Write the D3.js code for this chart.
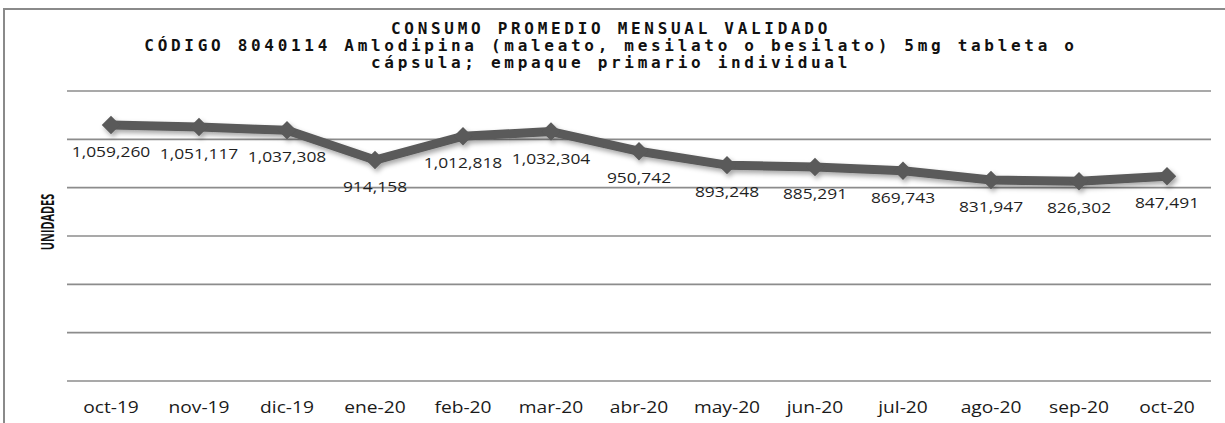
<!DOCTYPE html>
<html>
<head>
<meta charset="utf-8">
<script src="https://cdn.jsdelivr.net/npm/d3@7"></script>
<style>
  body { margin: 0; background: #fff; }
  svg { display: block; }
</style>
</head>
<body>
<div id="chart"></div>
<script>
const months = ["oct-19", "nov-19", "dic-19", "ene-20", "feb-20", "mar-20", "abr-20",
  "may-20", "jun-20", "jul-20", "ago-20", "sep-20", "oct-20"];
const consumo = [1059260, 1051117, 1037308, 914158, 1012818, 1032304, 950742,
  893248, 885291, 869743, 831947, 826302, 847491];
const yTicks = [0, 200000, 400000, 600000, 800000, 1000000, 1200000];
const titleLines = [
  "CONSUMO PROMEDIO MENSUAL VALIDADO",
  "CÓDIGO 8040114 Amlodipina (maleato, mesilato o besilato) 5mg tableta o",
  "cápsula; empaque primario individual"
];

const W = 1225, H = 423;
const plot = { left: 67, right: 1211, top: 91, bottom: 381 };

const svg = d3.select("#chart").append("svg")
  .attr("width", W)
  .attr("height", H);

const defs = svg.append("defs");
const shadow = defs.append("filter").attr("id", "shadow")
  .attr("x", "-10%").attr("y", "-50%").attr("width", "120%").attr("height", "200%");
shadow.append("feDropShadow")
  .attr("dx", 2).attr("dy", 3).attr("stdDeviation", 2.5)
  .attr("flood-color", "#000").attr("flood-opacity", 0.35);

// outer frame
svg.append("rect")
  .attr("x", 4).attr("y", 9)
  .attr("width", 1240).attr("height", 440)
  .attr("fill", "none")
  .attr("stroke", "#8a8a8a")
  .attr("stroke-width", 2);

const x = d3.scaleBand()
  .domain(months)
  .range([plot.left, plot.right]);

const y = d3.scaleLinear()
  .domain([0, 1200000])
  .range([plot.bottom, plot.top]);

// gridlines
svg.append("g")
  .selectAll("line")
  .data(yTicks)
  .enter()
  .append("line")
  .attr("x1", plot.left)
  .attr("x2", plot.right)
  .attr("y1", (d) => y(d))
  .attr("y2", (d) => y(d))
  .attr("stroke", "#8c8c8c")
  .attr("stroke-width", 1.6);

// x labels
const cx = (d) => x(d) + x.bandwidth() / 2;
svg.append("g")
  .selectAll("text")
  .data(months)
  .enter()
  .append("text")
  .attr("transform", (d) => `translate(${cx(d)},${413}) scale(1.2,1)`)
  .attr("text-anchor", "middle")
  .attr("font-family", "Open Sans, sans-serif")
  .attr("font-size", 16)
  .attr("fill", "#1a1a1a")
  .text((d) => d);

// y title
svg.append("text")
  .attr("transform", "translate(54,222) rotate(-90) scale(0.64,1)")
  .attr("text-anchor", "middle")
  .attr("font-family", "Open Sans, sans-serif")
  .attr("font-weight", "bold")
  .attr("font-size", 17)
  .attr("fill", "#111")
  .text("UNIDADES");

// title
svg.append("g")
  .selectAll("text")
  .data(titleLines)
  .enter()
  .append("text")
  .attr("x", 611)
  .attr("y", (d, i) => 34 + i * 17)
  .attr("text-anchor", "middle")
  .attr("font-family", "DejaVu Sans Mono, monospace")
  .attr("font-weight", "bold")
  .attr("font-size", 16)
  .attr("letter-spacing", 3.7)
  .attr("fill", "#111")
  .text((d) => d);

// line
const line = d3.line()
  .x((d, i) => cx(months[i]))
  .y((d) => y(d));

const series = svg.append("g").attr("filter", "url(#shadow)");

series.append("path")
  .datum(consumo)
  .attr("d", line)
  .attr("fill", "none")
  .attr("stroke", "#5a5a5a")
  .attr("stroke-width", 9)
  .attr("stroke-linejoin", "round");

const diamond = d3.symbol().type(d3.symbolSquare).size(170);
series.selectAll(".marker")
  .data(consumo)
  .enter()
  .append("path")
  .attr("class", "marker")
  .attr("d", diamond)
  .attr("transform", (d, i) => `translate(${cx(months[i])},${y(d)}) rotate(45)`)
  .attr("fill", "#5a5a5a");

// value labels
const fmt = d3.format(",");
svg.append("g")
  .selectAll("text")
  .data(consumo)
  .enter()
  .append("text")
  .attr("transform", (d, i) => `translate(${cx(months[i])},${y(d) + 32}) scale(1.2,1)`)
  .attr("text-anchor", "middle")
  .attr("font-family", "Open Sans, sans-serif")
  .attr("font-size", 14.5)
  .attr("fill", "#1f1f1f")
  .text((d) => fmt(d));
</script>
</body>
</html>
